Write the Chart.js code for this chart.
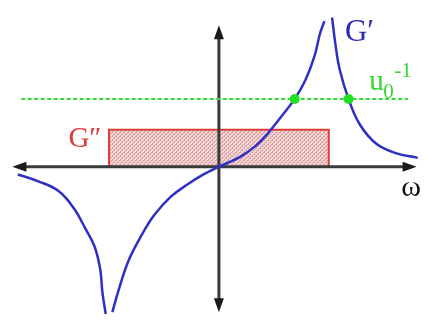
<!DOCTYPE html>
<html>
<head>
<meta charset="utf-8">
<script src="https://cdn.jsdelivr.net/npm/chart.js@4"></script>
<style>
  html, body { margin: 0; padding: 0; background: #fff; }
  #wrap { width: 430px; height: 322px; }
</style>
</head>
<body>
<div id="wrap"><canvas id="chart"></canvas></div>
<script>
// Real part G'(omega), three branches split at the poles omega = -1 and omega = 1
const leftOmega = [-1.83, -1.65, -1.46, -1.32, -1.21, -1.13, -1.08, -1.06, -1.03];
const leftG = [-0.21, -0.39, -0.66, -1.13, -1.71, -2.18, -2.79, -3.42, -4.00];
const midOmega = [-0.97, -0.91, -0.82, -0.70, -0.59, -0.44, -0.28, -0.14, 0, 0.19, 0.34, 0.45, 0.57, 0.69, 0.79, 0.87, 0.92, 0.96];
const midG = [-3.95, -3.32, -2.53, -1.84, -1.32, -0.82, -0.47, -0.21, 0, 0.26, 0.58, 0.92, 1.37, 1.84, 2.37, 3.00, 3.61, 3.95];
const rightOmega = [1.03, 1.06, 1.10, 1.18, 1.28, 1.43, 1.61, 1.81];
const rightG = [4.05, 3.34, 2.63, 1.84, 1.16, 0.63, 0.37, 0.24];

// Imaginary part G''(omega): a box between -1 and 1
const boxOmega = [-1, -1, 1, 1];
const boxG = [0, 1, 1, 0];

// Level 1/u0 and the two points where G' crosses it
const levelOmega = [-1.80, 1.72];
const level = 1.84;
const crossOmega = [0.69, 1.18];

// Axis extents (arrow tips)
const xAxisEnds = [-1.88, 1.80];
const yAxisEnds = [-3.95, 3.84];

function pts(xs, ys) {
    return xs.map(function(x, i) { return { x: x, y: ys[i] }; });
}

// G' with gaps at the poles
const gPrime = pts(leftOmega, leftG)
    .concat([{ x: -1, y: null }])
    .concat(pts(midOmega, midG))
    .concat([{ x: 1, y: null }])
    .concat(pts(rightOmega, rightG));

// cross-hatched pink fill for the box
function hatch() {
    const c = document.createElement('canvas');
    c.width = 4; c.height = 4;
    const g = c.getContext('2d');
    g.fillStyle = '#f1d6d6';
    g.fillRect(0, 0, 4, 4);
    g.fillStyle = '#dc9e9e';
    for (let i = 0; i < 4; i++) {
        g.fillRect(i, 3 - i, 1, 1);
        if (i % 2 === 0) g.fillRect(i, i, 1, 1);
    }
    return g.createPattern(c, 'repeat');
}

function arrowHead(ctx, tx, ty, dx, dy) {
    const len = 14, half = 5;
    const bx = tx - dx * len, by = ty - dy * len;
    ctx.beginPath();
    ctx.moveTo(tx, ty);
    ctx.lineTo(bx - dy * half, by + dx * half);
    ctx.lineTo(bx + dy * half, by - dx * half);
    ctx.closePath();
    ctx.fill();
}

// axes drawn right after the box so they sit above it but under the curves
const axesPlugin = {
    id: 'axes',
    afterDatasetDraw: function(chart, args) {
        if (args.index !== 3) return;
        const ctx = chart.ctx;
        const xs = chart.scales.x, ys = chart.scales.y;
        const x0 = xs.getPixelForValue(0), y0 = ys.getPixelForValue(0);
        const l = xs.getPixelForValue(xAxisEnds[0]), r = xs.getPixelForValue(xAxisEnds[1]);
        const b = ys.getPixelForValue(yAxisEnds[0]), t = ys.getPixelForValue(yAxisEnds[1]);
        ctx.save();
        ctx.strokeStyle = '#3a3a3a';
        ctx.fillStyle = '#1a1a1a';
        ctx.lineWidth = 3;
        ctx.beginPath();
        ctx.moveTo(l + 6, y0); ctx.lineTo(r - 6, y0);
        ctx.moveTo(x0, t + 6); ctx.lineTo(x0, b - 6);
        ctx.stroke();
        arrowHead(ctx, l, y0, -1, 0);
        arrowHead(ctx, r, y0, 1, 0);
        arrowHead(ctx, x0, t, 0, -1);
        arrowHead(ctx, x0, b, 0, 1);
        ctx.restore();
    }
};

const labelPlugin = {
    id: 'labels',
    afterDatasetsDraw: function(chart) {
        const ctx = chart.ctx;
        const xs = chart.scales.x, ys = chart.scales.y;
        const px = function(w) { return xs.getPixelForValue(w); };
        const py = function(g) { return ys.getPixelForValue(g); };
        ctx.save();
        ctx.textBaseline = 'alphabetic';
        ctx.textAlign = 'left';
        const serif = '"Liberation Serif", "DejaVu Serif", serif';

        ctx.fillStyle = '#2b2bb5';
        ctx.font = '31px ' + serif;
        ctx.fillText('G\u2032', px(1.147), py(3.42));

        ctx.fillStyle = '#e03a3a';
        ctx.font = '29px ' + serif;
        ctx.fillText('G\u2033', px(-1.37), py(0.526));

        ctx.fillStyle = '#33d633';
        const ux = px(1.369), uy = py(2.08);
        ctx.font = '29px ' + serif;
        ctx.fillText('u', ux, uy);
        ctx.font = '21px ' + serif;
        ctx.fillText('0', ux + 14, uy + 8);
        ctx.fillText('-1', ux + 25, uy - 13);

        ctx.fillStyle = '#111';
        ctx.font = '30px ' + serif;
        ctx.fillText('\u03c9', px(1.66), py(-0.79));
        ctx.restore();
    }
};

new Chart(document.getElementById('chart'), {
    type: 'line',
    data: {
        datasets: [
            {
                // crossing points
                data: pts(crossOmega, [level, level]),
                showLine: false,
                pointRadius: 5,
                pointBackgroundColor: '#22e022',
                pointBorderWidth: 0
            },
            {
                // G'
                data: gPrime,
                borderColor: '#2f2fc4',
                borderWidth: 2.5,
                pointRadius: 0,
                tension: 0.4,
                fill: false
            },
            {
                // 1/u0 level
                data: pts(levelOmega, [level, level]),
                borderColor: '#33dd33',
                borderWidth: 2,
                borderDash: [4, 2.5],
                pointRadius: 0,
                fill: false
            },
            {
                // G'' box
                data: pts(boxOmega, boxG),
                borderColor: '#e03a3a',
                borderWidth: 2,
                backgroundColor: hatch(),
                pointRadius: 0,
                tension: 0,
                fill: 'origin'
            }
        ]
    },
    options: {
        responsive: true,
        maintainAspectRatio: false,
        animation: false,
        layout: { padding: 0 },
        plugins: {
            legend: { display: false },
            tooltip: { enabled: false }
        },
        scales: {
            x: { type: 'linear', min: -1.947, max: 1.876, display: false },
            y: { type: 'linear', min: -4.08, max: 4.39, display: false }
        }
    },
    plugins: [axesPlugin, labelPlugin]
});
</script>
</body>
</html>
